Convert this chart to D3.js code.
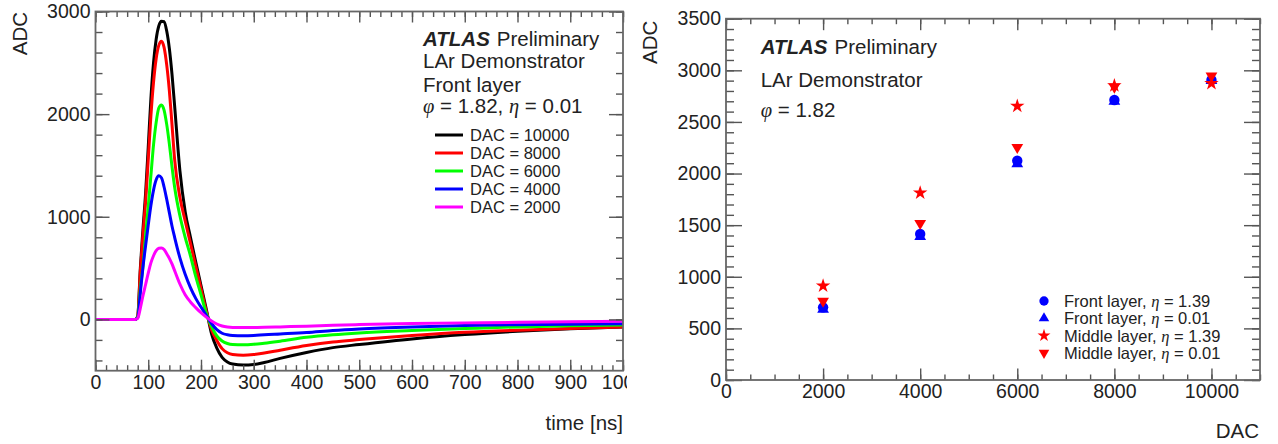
<!doctype html>
<html lang="en">
<head>
<meta charset="utf-8">
<style>
	body{margin:0;background:#fff;}
	svg{display:block;font-family:"Liberation Sans",Arial,sans-serif;}
	.tit{font-size:20.5px;fill:#222;}
</style>
</head>
<body>
<svg id="grafico" width="1278" height="444"></svg>

<script src="https://d3js.org/d3.v7.min.js"></script>
<script>

// left panel: pulse shapes, ADC vs time [ns]
var times = [0, 75, 80, 85, 90, 95, 100, 105, 110, 115, 120, 125, 130, 135, 140, 145, 150, 160, 170, 180, 190, 200, 210, 220, 230, 240, 250, 260, 280, 300, 320, 350, 400, 450, 500, 600, 700, 800, 900, 1000];
var dac10000 = [0,0,30,500,880,1230,1680,2150,2500,2730,2860,2905,2900,2810,2640,2390,2080,1450,1050,800,560,330,100,-140,-280,-370,-415,-435,-445,-440,-420,-380,-322,-275,-245,-190,-148,-116,-92,-73];
var dac8000 = [0,0,30,470,820,1150,1560,1980,2310,2540,2670,2710,2650,2480,2230,1900,1560,1190,960,740,520,300,80,-100,-205,-285,-325,-343,-350,-343,-328,-300,-255,-220,-197,-158,-126,-105,-88,-74];
var dac6000 = [0,0,20,300,520,820,1100,1400,1700,1920,2060,2090,2040,1900,1710,1490,1290,1010,800,620,420,240,60,-70,-160,-210,-235,-245,-248,-243,-232,-212,-175,-150,-132,-109,-90,-73,-62,-54];
var dac4000 = [0,0,15,260,510,720,920,1110,1260,1360,1400,1380,1290,1170,1040,910,800,600,440,310,205,120,40,-40,-100,-135,-150,-157,-160,-157,-150,-142,-128,-108,-93,-73,-60,-52,-47,-43];
var dac2000 = [0,0,10,110,230,340,450,550,620,670,693,695,680,640,595,540,475,345,240,170,115,65,22,-15,-45,-65,-75,-79,-80,-79,-77,-73,-66,-58,-51,-41,-34,-29,-24,-18];

var pulseNames = ["DAC = 10000","DAC = 8000","DAC = 6000","DAC = 4000","DAC = 2000"];
var pulseColors = ["#000000","#ff0000","#00ff00","#0000ff","#ff00ff"];
var pulses = [dac10000, dac8000, dac6000, dac4000, dac2000];

// right panel: ADC peak vs DAC
var dacValues = [2000, 4000, 6000, 8000, 10000];
var frontEta139 = [704, 1414, 2124, 2712, 2906];
var frontEta001 = [685, 1390, 2095, 2700, 2900];
var middleEta139 = [913, 1814, 2654, 2851, 2874];
var middleEta001 = [765, 1518, 2254, 2840, 2945];
var seriesNames = ["Front layer, ", "Front layer, ", "Middle layer, ", "Middle layer, "];
var seriesEta = ["1.39", "0.01", "1.39", "0.01"];

var svg = d3.select("#grafico");
var fuente = "'Liberation Sans',Arial,sans-serif";

function ejes(g, x, y, xMaj, xMin, yMaj, yMin, t){
	var xa = x.range()[0], xb = x.range()[1], ya = y.range()[0], yb = y.range()[1];
	function limpia(s){ s.select(".domain").remove(); s.attr("color","#555").attr("font-family",fuente).attr("font-size",19.5); s.selectAll("line").attr("stroke-width",1.4); s.selectAll("text").attr("fill","#222"); }
	g.append("g").attr("transform","translate(0,"+ya+")").call(d3.axisBottom(x).tickValues(xMin).tickSizeInner(-t[1]).tickSizeOuter(0).tickFormat("")).call(limpia);
	g.append("g").attr("transform","translate(0,"+ya+")").call(d3.axisBottom(x).tickValues(xMaj).tickSizeInner(-t[0]).tickSizeOuter(0).tickPadding(4).tickFormat(d3.format("d"))).call(limpia);
	g.append("g").attr("transform","translate(0,"+yb+")").call(d3.axisTop(x).tickValues(xMin).tickSizeInner(-t[1]).tickSizeOuter(0).tickFormat("")).call(limpia);
	g.append("g").attr("transform","translate(0,"+yb+")").call(d3.axisTop(x).tickValues(xMaj).tickSizeInner(-t[0]).tickSizeOuter(0).tickFormat("")).call(limpia);
	g.append("g").attr("transform","translate("+xa+",0)").call(d3.axisLeft(y).tickValues(yMin).tickSizeInner(-t[3]).tickSizeOuter(0).tickFormat("")).call(limpia);
	g.append("g").attr("transform","translate("+xa+",0)").call(d3.axisLeft(y).tickValues(yMaj).tickSizeInner(-t[2]).tickSizeOuter(0).tickPadding(5).tickFormat(d3.format("d"))).call(limpia);
	g.append("g").attr("transform","translate("+xb+",0)").call(d3.axisRight(y).tickValues(yMin).tickSizeInner(-t[3]).tickSizeOuter(0).tickFormat("")).call(limpia);
	g.append("g").attr("transform","translate("+xb+",0)").call(d3.axisRight(y).tickValues(yMaj).tickSizeInner(-t[2]).tickSizeOuter(0).tickFormat("")).call(limpia);
	g.append("rect").attr("x",xa).attr("y",yb).attr("width",xb-xa).attr("height",ya-yb).attr("fill","none").attr("stroke","#666").attr("stroke-width",1.8);
}

// ---------- left ----------
svg.append("clipPath").attr("id","corte").append("rect").attr("x",0).attr("y",0).attr("width",627).attr("height",444);
var izq = svg.append("g").attr("clip-path","url(#corte)");

var x1 = d3.scaleLinear().domain([0,1000]).range([95.5,623]);
var y1 = d3.scaleLinear().domain([-500,3000]).range([370.7,11.5]);

var linea = d3.line().x(function(d){return x1(d[0])}).y(function(d){return y1(d[1])}).curve(d3.curveMonotoneX);

izq.selectAll("path.pulso").data(pulses).enter().append("path").attr("class","pulso")
	.attr("d",function(d){ return linea(d.map(function(v,i){ return [times[i], v] })) })
	.attr("fill","none").attr("stroke",function(d,i){return pulseColors[i]}).attr("stroke-width",3);

ejes(izq, x1, y1, d3.range(0,1001,100), d3.range(0,1001,20), [0,1000,2000,3000], d3.range(-400,3001,200), [11,5.5,14,7]);

izq.append("text").attr("class","tit").attr("transform","translate(27,12) rotate(-90)").attr("text-anchor","end").text("ADC");
izq.append("text").attr("class","tit").attr("x",623).attr("y",430).attr("text-anchor","end").text("time [ns]");

var t1 = izq.append("text").attr("class","tit").attr("x",423).attr("y",46).attr("font-size",21);
t1.append("tspan").attr("font-weight","bold").attr("font-style","italic").text("ATLAS");
t1.append("tspan").attr("dx",7).text("Preliminary");
izq.append("text").attr("class","tit").attr("x",423).attr("y",67.7).text("LAr Demonstrator");
izq.append("text").attr("class","tit").attr("x",423).attr("y",91.5).text("Front layer");
var t2 = izq.append("text").attr("class","tit").attr("x",423).attr("y",113);
t2.append("tspan").attr("font-family","'Liberation Serif',serif").attr("font-style","italic").text("φ");
t2.append("tspan").text(" = 1.82, ");
t2.append("tspan").attr("font-family","'Liberation Serif',serif").attr("font-style","italic").text("η");
t2.append("tspan").text(" = 0.01");

var ley = izq.selectAll("g.ley").data(pulseNames).enter().append("g").attr("class","ley")
	.attr("transform",function(d,i){return "translate(0,"+(135+18*i)+")"});
ley.append("line").attr("x1",435).attr("x2",463).attr("y1",0).attr("y2",0).attr("stroke",function(d,i){return pulseColors[i]}).attr("stroke-width",3);
ley.append("text").attr("x",470).attr("y",0).attr("dy","0.36em").attr("font-size",16.5).attr("fill","#222").text(function(d){return d});

// ---------- right ----------
var der = svg.append("g");
var x2 = d3.scaleLinear().domain([0,11000]).range([726,1260]);
var y2 = d3.scaleLinear().domain([0,3500]).range([380,18.7]);

ejes(der, x2, y2, d3.range(0,10001,2000), d3.range(0,11001,500), d3.range(0,3501,500), d3.range(0,3501,100), [11.5,5.5,16,8]);

der.append("text").attr("class","tit").attr("transform","translate(657,20.7) rotate(-90)").attr("text-anchor","end").text("ADC");
der.append("text").attr("class","tit").attr("x",1259).attr("y",438).attr("text-anchor","end").text("DAC");

var t3 = der.append("text").attr("class","tit").attr("x",760.7).attr("y",54).attr("font-size",21);
t3.append("tspan").attr("font-weight","bold").attr("font-style","italic").text("ATLAS");
t3.append("tspan").attr("dx",7).text("Preliminary");
der.append("text").attr("class","tit").attr("x",760.7).attr("y",87.3).text("LAr Demonstrator");
var t4 = der.append("text").attr("class","tit").attr("x",760.7).attr("y",116.7);
t4.append("tspan").attr("font-family","'Liberation Serif',serif").attr("font-style","italic").text("φ");
t4.append("tspan").text(" = 1.82");

var simbolos = [
	{datos:frontEta139, tipo:d3.symbolCircle, tam:85, color:"#0000ff", giro:0},
	{datos:frontEta001, tipo:d3.symbolTriangle, tam:60, color:"#0000ff", giro:0},
	{datos:middleEta139, tipo:d3.symbolStar, tam:65, color:"#ff0000", giro:0},
	{datos:middleEta001, tipo:d3.symbolTriangle, tam:60, color:"#ff0000", giro:180}
];

// draw order: up triangles under circles
[1,0,3,2].forEach(function(k){
	var s = simbolos[k];
	der.selectAll("path.s"+k).data(s.datos).enter().append("path").attr("class","s"+k)
		.attr("d",d3.symbol().type(s.tipo).size(s.tam))
		.attr("transform",function(d,i){return "translate("+x2(dacValues[i])+","+y2(d)+") rotate("+s.giro+")"})
		.attr("fill",s.color);
});

var ley2 = der.selectAll("g.ley2").data(simbolos).enter().append("g").attr("class","ley2")
	.attr("transform",function(d,i){return "translate(0,"+(301+17.3*i)+")"});
ley2.append("path").attr("d",function(d){return d3.symbol().type(d.tipo).size(d.tam*0.8)()})
	.attr("transform",function(d){return "translate(1044,0) rotate("+d.giro+")"}).attr("fill",function(d){return d.color});
var lt = ley2.append("text").attr("x",1064).attr("y",0).attr("dy","0.36em").attr("font-size",16.5).attr("fill","#222");
lt.append("tspan").text(function(d,i){return seriesNames[i]});
lt.append("tspan").attr("font-family","'Liberation Serif',serif").attr("font-style","italic").text("η");
lt.append("tspan").text(function(d,i){return " = "+seriesEta[i]});

</script>
</body>
</html>
